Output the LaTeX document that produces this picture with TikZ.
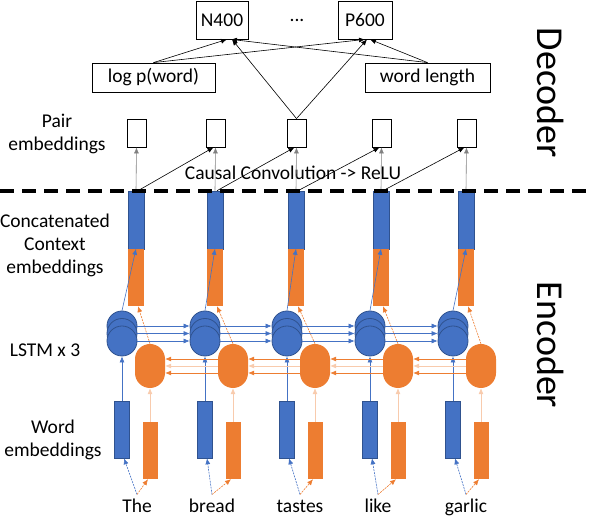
\documentclass[tikz,border=0pt]{standalone}
\usepackage{fontspec}
\setmainfont{Carlito}
\usetikzlibrary{arrows.meta}
\definecolor{encblue}{HTML}{4472C4}
\definecolor{encdark}{HTML}{2F528F}
\definecolor{encorange}{HTML}{ED7D31}
\definecolor{paleorange}{HTML}{F8CBAD}
\begin{document}
\begin{tikzpicture}[x=1pt, y=-1pt, font=\fontsize{19.5}{23}\selectfont]

\tikzset{box/.style = {draw, line width=0.8pt, inner sep=0pt}}
\tikzset{edge/.style = {->, > = {Latex[length=6pt, width=5pt]}, line width=0.6pt}}
\tikzset{dotedge/.style = {edge, dash pattern=on 2pt off 1pt}}
\tikzset{bluebar/.style = {fill=encblue, draw=encdark, line width=0.6pt, minimum width=15pt, minimum height=57pt, inner sep=0pt}}
\tikzset{orangebar/.style = {fill=encorange, minimum width=15pt, minimum height=57pt, inner sep=0pt}}
\tikzset{cell/.style = {circle, fill=encblue, draw=encdark, line width=0.8pt, minimum size=30pt, inner sep=0pt}}
\tikzset{revcell/.style = {rectangle, rounded corners=15pt, fill=encorange, minimum width=30pt, minimum height=44pt, inner sep=0pt}}
\tikzset{word/.style = {text height=1.5ex, text depth=0.3ex, inner sep=1pt}}

\useasboundingbox (0,0) rectangle (590,518);

%decoder outputs
\node[box, minimum width=52pt, minimum height=38pt] (n400) at (222,20) {N400};
\node[box, minimum width=54pt, minimum height=38pt] (p600) at (365,20) {P600};
\node (dots) at (297,20) {...};
\node[box, minimum width=123pt, minimum height=29pt] (logp) at (153.5,77.5) {log p(word)};
\node[box, minimum width=125pt, minimum height=29pt] (wlen) at (427.5,77.5) {word length};

%row labels
\node[align=center] (pairlab) at (57,134) {Pair\\embeddings};
\node[align=center] (catlab) at (55,245) {Concatenated\\Context\\embeddings};
\node (lstmlab) at (45,350) {LSTM x 3};
\node[align=center] (wordlab) at (53,440) {Word\\embeddings};
\node (conv) at (293,173) {Causal Convolution -> ReLU};
\node[rotate=-90, font=\fontsize{38}{40}\selectfont] (dec) at (551,93) {Decoder};
\node[rotate=-90, font=\fontsize{38}{40}\selectfont] (enc) at (551,345) {Encoder};

%columns
\foreach \i/\bx/\cx/\w/\wx in {1/122/136/The/137, 2/205/215/bread/212, 3/287/296/tastes/300, 4/370/381/like/378, 5/453/466/garlic/466}{
  \node[word] (w\i) at (\wx,510) {\w};
  \node[bluebar] (be\i) at (\bx,429.5) {};
  \node[orangebar] (oe\i) at (\bx+28,450.5) {};
  \node[cell] (la\i) at (\bx,326) {};
  \node[cell] (lb\i) at (\bx,333.5) {};
  \node[cell] (lc\i) at (\bx,341) {};
  \node[revcell] (r\i) at (\bx+28,366) {};
  \node[bluebar, minimum width=16pt, minimum height=58pt] (cb\i) at (\cx,220) {};
  \node[orangebar, minimum width=16pt] (co\i) at (\cx,277.5) {};
  \node[box, minimum width=19pt, minimum height=28pt] (p\i) at (\cx+0.5,133) {};
  \draw[dotedge, encblue] ([yshift=10pt]w\i.north) -- ([xshift=2pt]be\i.south);
  \draw[dotedge, encorange] ([yshift=10pt]w\i.north) -- ([xshift=-2pt]oe\i.south);
  \draw[edge, encblue] (be\i.north) -- (lc\i.south);
  \draw[edge, paleorange] (oe\i.north) -- (r\i.south);
  \draw[edge, encblue] (la\i.north) -- (co\i.north);
  \draw[dotedge, encorange] (r\i.north) -- ([xshift=2pt]co\i.south);
  \draw[edge, gray] (cb\i.north) -- (p\i.south);
}

%recurrence and convolution
\foreach \i/\j in {1/2, 2/3, 3/4, 4/5}{
  \draw[edge, encblue] (la\i.east) -- (la\j.west);
  \draw[edge, encblue] (lb\i.east) -- (lb\j.west);
  \draw[edge, encblue] (lc\i.east) -- (lc\j.west);
  \draw[edge, encorange] ([yshift=7pt]r\j.west) -- ([yshift=7pt]r\i.east);
  \draw[edge, paleorange] (r\j.west) -- (r\i.east);
  \draw[edge, encorange] ([yshift=-7pt]r\j.west) -- ([yshift=-7pt]r\i.east);
  \draw[edge] ([xshift=2pt]cb\i.north) -- ([xshift=-2pt]p\j.south);
}

%decoder edges
\draw[edge] (logp.north) -- ([xshift=5pt]n400.south);
\draw[edge] (logp.north) -- (p600.south);
\draw[edge] (wlen.north) -- ([xshift=9pt]n400.south);
\draw[edge] (wlen.north) -- ([xshift=5pt]p600.south);
\draw[edge] (p3.north) -- ([xshift=10pt]n400.south);
\draw[edge] (p3.north) -- ([xshift=2pt]p600.south);

%divider
\coordinate (divl) at (0,191);
\coordinate (divr) at (590,191);
\draw[line width=4pt, dash pattern=on 14pt off 8pt] (divl) -- (divr);

\end{tikzpicture}
\end{document}
